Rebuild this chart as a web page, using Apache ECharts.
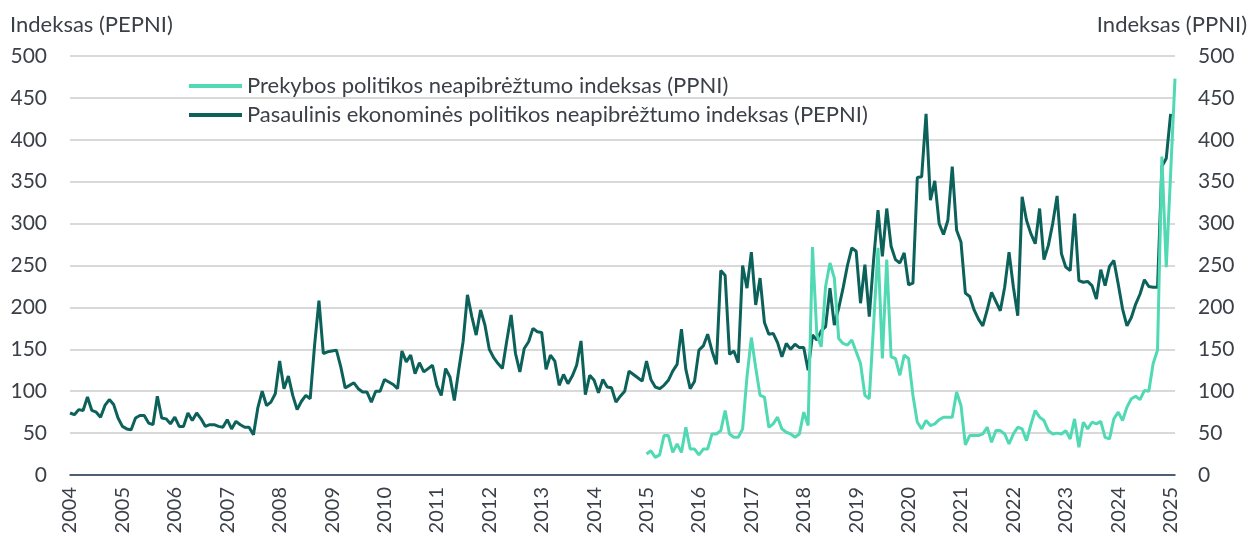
<!DOCTYPE html>
<html>
<head>
<meta charset="utf-8">
<script src="https://cdn.jsdelivr.net/npm/echarts@6/dist/echarts.min.js"></script>
<style>
  html, body { margin: 0; padding: 0; background: #fff; }
  #chart { width: 1257px; height: 539px; }
</style>
</head>
<body>
<div id="chart"></div>
<script>
// mėnesiai nuo 2004-01 iki 2025-02
var months = [];
for (var y = 2004; y <= 2025; y++) {
  for (var m = 1; m <= 12; m++) {
    if (y === 2025 && m > 2) break;
    months.push(y + '-' + (m < 10 ? '0' + m : m));
  }
}

// Pasaulinis ekonominės politikos neapibrėžtumo indeksas (PEPNI), 2004-01 .. 2025-01
var pepni = [
  74, 72, 78, 77, 93, 77, 75, 69, 83, 90, 84, 68,
  58, 55, 54, 68, 71, 71, 62, 60, 94, 68, 67, 61,
  69, 58, 58, 74, 65, 74, 67, 58, 60, 60, 58, 57,
  66, 55, 64, 60, 57, 57, 48, 80, 100, 83, 87, 97,
  136, 103, 118, 95, 78, 88, 95, 91, 155, 208, 145, 147,
  148, 149, 129, 104, 107, 110, 103, 99, 99, 87, 100, 100,
  114, 111, 108, 103, 148, 135, 143, 121, 134, 123, 127, 131,
  107, 95, 127, 117, 89, 125, 159, 215, 189, 167, 197, 179,
  150, 140, 133, 127, 160, 191, 145, 123, 151, 159, 175, 171,
  170, 126, 143, 136, 107, 120, 109, 118, 131, 160, 96, 119,
  113, 98, 114, 105, 104, 87, 94, 100, 124, 120, 116, 112,
  136, 114, 105, 103, 107, 113, 124, 132, 174, 126, 103, 112,
  149, 154, 168, 148, 132, 244, 238, 144, 148, 134, 250, 223,
  266, 203, 235, 182, 168, 169, 158, 141, 157, 150, 156, 152,
  152, 125, 167, 161, 172, 177, 223, 179, 199, 223, 250, 271,
  267, 205, 251, 189, 257, 316, 261, 318, 273, 257, 253, 265,
  227, 229, 355, 356, 431, 328, 351, 300, 287, 304, 368, 292,
  278, 217, 213, 197, 186, 178, 197, 218, 207, 196, 224, 266,
  224, 190, 332, 304, 288, 276, 318, 257, 274, 300, 333, 264,
  248, 244, 312, 232, 230, 231, 226, 210, 245, 226, 249, 256,
  228, 198, 178, 188, 204, 216, 233, 225, 224, 224, 368, 378,
  431, null
];

// Prekybos politikos neapibrėžtumo indeksas (PPNI), nuo 2015-01
var ppniStart = '2015-01';
var ppni = [
  25, 29, 21, 24, 47, 47, 27, 37, 27, 57, 31, 31,
  24, 31, 31, 49, 49, 53, 77, 49, 45, 45, 55, 117,
  164, 128, 95, 93, 57, 61, 69, 55, 51, 49, 45, 49,
  75, 59, 272, 167, 153, 225, 253, 235, 163, 157, 155, 161,
  147, 133, 95, 91, 180, 271, 139, 257, 141, 139, 119, 143,
  139, 95, 63, 55, 65, 59, 61, 66, 69, 69, 69, 99,
  83, 36, 47, 47, 47, 49, 57, 39, 53, 53, 49, 37,
  49, 57, 55, 41, 60, 77, 69, 65, 53, 49, 50, 49,
  53, 43, 67, 33, 63, 55, 63, 61, 64, 45, 43, 67,
  75, 65, 81, 91, 94, 90, 101, 100, 133, 149, 380, 248,
  360, 473
];

var yTicks = { min: 0, max: 500, step: 50 };

var textColor = '#3a3f48';
var font = 'Lato';

// PPNI ištempiam per visą mėnesių ašį
var ppniFull = months.map(function () { return null; });
var offset = months.indexOf(ppniStart);
ppni.forEach(function (v, i) { ppniFull[offset + i] = v; });

var chart = echarts.init(document.getElementById('chart'), null, { renderer: 'canvas' });

var yAxisBase = function (pos) {
  return {
    type: 'value',
    position: pos,
    min: yTicks.min,
    max: yTicks.max,
    interval: yTicks.step,
    axisLine: { show: false },
    axisTick: { show: false },
    axisLabel: { color: textColor, fontSize: 21, fontFamily: font, margin: 23 },
    splitLine: { show: pos === 'left', lineStyle: { color: '#d9d9d9', width: 2 } }
  };
};

chart.setOption({
  animation: false,
  grid: { left: 70, right: 82, top: 56, bottom: 64, containLabel: false },
  graphic: [
    { type: 'text', left: 10, top: 14,
      style: { text: 'Indeksas (PEPNI)', font: '22px Lato', fill: textColor } },
    { type: 'text', right: 10, top: 14,
      style: { text: 'Indeksas (PPNI)', font: '22px Lato', fill: textColor } }
  ],
  legend: {
    orient: 'vertical',
    left: 184,
    top: 70,
    icon: 'rect',
    itemWidth: 53,
    itemHeight: 4,
    itemGap: 7,
    textStyle: { color: textColor, fontSize: 22, fontFamily: font, lineHeight: 22 },
    data: [
      'Prekybos politikos neapibrėžtumo indeksas (PPNI)',
      'Pasaulinis ekonominės politikos neapibrėžtumo indeksas (PEPNI)'
    ]
  },
  xAxis: {
    type: 'category',
    data: months,
    boundaryGap: false,
    axisLine: { lineStyle: { color: '#1f3654', width: 1.5 } },
    axisTick: { show: false },
    axisLabel: {
      interval: function (i) { return i % 12 === 0; },
      formatter: function (v) { return v.slice(0, 4); },
      rotate: 90,
      margin: 12,
      color: textColor,
      fontSize: 20,
      fontFamily: font
    },
    splitLine: { show: false }
  },
  yAxis: [yAxisBase('left'), yAxisBase('right')],
  series: [
    {
      name: 'Prekybos politikos neapibrėžtumo indeksas (PPNI)',
      type: 'line',
      yAxisIndex: 1,
      data: ppniFull,
      symbol: 'none',
      z: 3,
      itemStyle: { color: '#50d9b3' },
      lineStyle: { color: '#50d9b3', width: 3 }
    },
    {
      name: 'Pasaulinis ekonominės politikos neapibrėžtumo indeksas (PEPNI)',
      type: 'line',
      yAxisIndex: 0,
      data: pepni,
      symbol: 'none',
      z: 2,
      itemStyle: { color: '#0c615a' },
      lineStyle: { color: '#0c615a', width: 3 }
    }
  ]
});
</script>
</body>
</html>
